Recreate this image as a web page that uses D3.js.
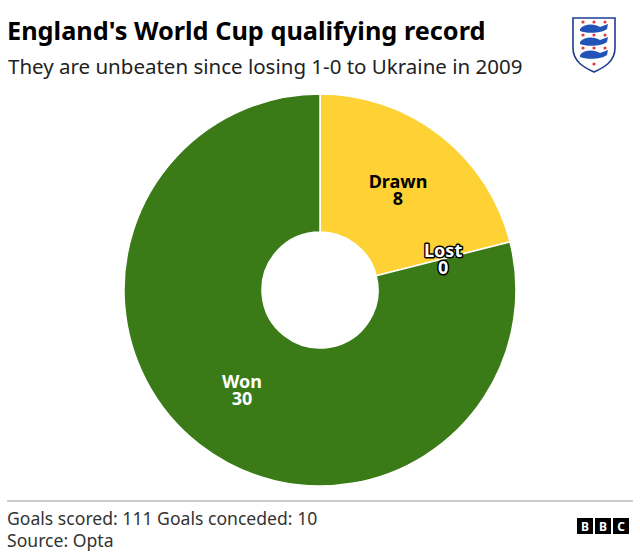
<!DOCTYPE html>
<html>
<head>
<meta charset="utf-8">
<script src="https://cdn.jsdelivr.net/npm/d3@7"></script>
<style>
  body { margin: 0; background: #fff; }
  svg { display: block; font-family: "Noto Sans", "Open Sans", sans-serif; }
</style>
</head>
<body>
<script>
// datos del gráfico
var categorias = ["Drawn", "Lost", "Won"];
var partidos = [8, 0, 30];
var colores = ["#fed234", "#fed234", "#3a7b17"];
var colorTexto = ["#000", "#fff", "#fff"];

var w = 640, h = 558;
var cx = 320, cy = 290;
var rExt = 196, rInt = 58;

var svg = d3.select("body").append("svg")
    .attr("width", w).attr("height", h);

// titulo y subtitulo
svg.append("text").attr("x", 7).attr("y", 40)
    .attr("font-size", 25.3).attr("font-weight", 700).attr("fill", "#000")
    .text("England's World Cup qualifying record");
svg.append("text").attr("x", 8).attr("y", 74)
    .attr("font-size", 20.5).attr("fill", "#222")
    .text("They are unbeaten since losing 1-0 to Ukraine in 2009");

// escudo (simplificado)
var escudo = svg.append("g").attr("transform", "translate(573,18)");
escudo.append("path")
    .attr("d", "M0,0 H42 V30 C42,44 30,50 21,54 C12,50 0,44 0,30 Z")
    .attr("fill", "#fff").attr("stroke", "#1d3c8f").attr("stroke-width", 1.6);
[8, 21, 34].forEach(function (y) {
    escudo.append("path")
        .attr("d", "M7," + (y + 3) + " C12," + (y - 3) + " 22," + (y - 2) + " 27," + (y + 1) +
              " L35," + (y - 2) + " L34," + (y + 3) + " C30," + (y + 7) + " 14," + (y + 8) + " 7," + (y + 5) + " Z")
        .attr("fill", "#2253b9");
    [10, 21, 32].forEach(function (x) {
        escudo.append("circle").attr("cx", x).attr("cy", y - 4).attr("r", 1.6)
            .attr("fill", "#e0393e");
    });
});
escudo.append("circle").attr("cx", 21).attr("cy", 46).attr("r", 1.6).attr("fill", "#e0393e");

// donut
var pie = d3.pie().sort(null).value(function (d) { return d.valor; });
var datos = categorias.map(function (c, i) {
    return { cat: c, valor: partidos[i], color: colores[i], texto: colorTexto[i] };
});
var arcos = pie(datos);
var arc = d3.arc().innerRadius(rInt).outerRadius(rExt);

var g = svg.append("g").attr("transform", "translate(" + cx + "," + cy + ")");
g.selectAll("path")
    .data(arcos.filter(function (d) { return d.data.valor > 0; }))
    .enter().append("path")
    .attr("d", arc)
    .attr("fill", function (d) { return d.data.color; })
    .attr("stroke", "#fff").attr("stroke-width", 1.5);

// etiquetas: un solo texto con dos lineas
var etiquetas = g.selectAll("text.etiqueta")
    .data(arcos)
    .enter().append("text")
    .attr("class", "etiqueta")
    .attr("transform", function (d) { return "translate(" + arc.centroid(d) + ")"; })
    .attr("text-anchor", "middle")
    .attr("font-size", 18).attr("font-weight", 700)
    .attr("fill", function (d) { return d.data.texto; });

etiquetas.filter(function (d) { return d.data.valor === 0; })
    .attr("stroke", "#000").attr("stroke-width", 3)
    .attr("paint-order", "stroke").attr("stroke-linejoin", "round");

etiquetas.append("tspan").attr("x", 0).attr("y", -2)
    .text(function (d) { return d.data.cat; });
etiquetas.append("tspan").attr("x", 0).attr("y", 15)
    .text(function (d) { return d.data.valor; });

// pie de pagina
svg.append("line").attr("x1", 7).attr("x2", 633).attr("y1", 501).attr("y2", 501)
    .attr("stroke", "#999").attr("stroke-width", 1);
svg.append("text").attr("x", 7).attr("y", 525)
    .attr("font-size", 17.6).attr("fill", "#333")
    .text("Goals scored: 111 Goals conceded: 10");
svg.append("text").attr("x", 7).attr("y", 547)
    .attr("font-size", 17.6).attr("fill", "#333")
    .text("Source: Opta");

var bbc = svg.append("g").attr("transform", "translate(577,518)");
["B", "B", "C"].forEach(function (l, i) {
    bbc.append("rect").attr("x", i * 18).attr("y", 0).attr("width", 16).attr("height", 16)
        .attr("fill", "#000");
    bbc.append("text").attr("x", i * 18 + 8).attr("y", 12.5)
        .attr("text-anchor", "middle").attr("font-size", 12).attr("font-weight", 700)
        .attr("fill", "#fff").text(l);
});
</script>
</body>
</html>
